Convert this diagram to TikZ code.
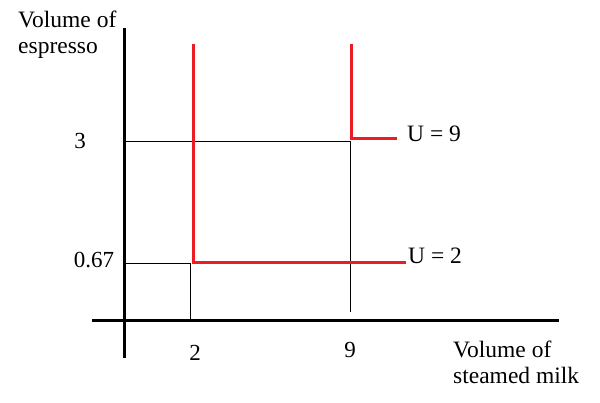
\documentclass[tikz,border=0pt]{standalone}
\usepackage{fontspec}
\setmainfont{Liberation Serif}
\usepackage{xcolor}
\definecolor{curvered}{RGB}{237,28,36}

\begin{document}
\begin{tikzpicture}[
        x=1pt, y=-1pt,
        axis/.style={line width=3pt},
        guide/.style={line width=1pt},
        curve/.style={line width=3pt, curvered},
        lbl/.style={font=\fontsize{23.5}{25.5}\selectfont, inner sep=0pt},
        tick/.style={font=\fontsize{23}{25}\selectfont, inner sep=0pt}
    ]
    \useasboundingbox (0,0) rectangle (600,402);

    % Axes
    \coordinate (ytop) at (124,28);
    \coordinate (ybot) at (124,358);
    \coordinate (xleft) at (92,320);
    \coordinate (xright) at (559,320);
    \draw[axis] (ytop) -- (ybot);
    \draw[axis] (xleft) -- (xright);

    % Axis titles
    \node[lbl, anchor=north west, align=left] (ytitle) at (18,11) {Volume of\\espresso};
    \node[lbl, anchor=north west, align=left] (xtitle) at (453,341) {Volume of\\steamed milk};

    % Tick labels
    \node[tick] (y3) at (80,141) {3};
    \node[tick] (y067) at (94,260) {0.67};
    \node[tick] (x2) at (195,353) {2};
    \node[tick] (x9) at (350,350) {9};

    % Guide lines to the corners
    \coordinate (a3) at (125,141);
    \coordinate (c9) at (350,141);
    \coordinate (b9) at (350,312);
    \coordinate (a067) at (125,263);
    \coordinate (c2) at (190,263);
    \coordinate (b2) at (190,319);
    \draw[guide] (a3) -- (c9) -- (b9);
    \draw[guide] (a067) -- (c2) -- (b2);

    % Indifference curves
    \coordinate (u2top) at (193,44);
    \coordinate (u2corner) at (193,262);
    \coordinate (u2end) at (406,262);
    \coordinate (u9top) at (351,44);
    \coordinate (u9corner) at (351,138);
    \coordinate (u9end) at (397,138);
    \draw[curve] (u2top) -- (u2corner) -- (u2end);
    \draw[curve] (u9top) -- (u9corner) -- (u9end);
    \node[lbl, anchor=west] (u9) at (407,134) {U = 9};
    \node[lbl, anchor=west] (u2) at (408,256) {U = 2};

\end{tikzpicture}
\end{document}
